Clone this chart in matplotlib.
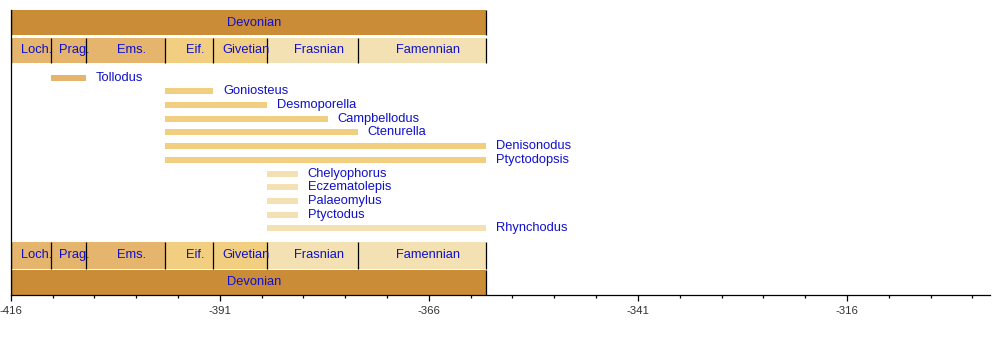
"""Ptyctodont genus ranges through the Devonian, with stage / period bands
top and bottom (GTS 2004 boundaries, ages in Ma as negative numbers)."""
import numpy as np
import matplotlib
matplotlib.use("Agg")
import matplotlib.pyplot as plt
from matplotlib.patches import Rectangle

plt.rcParams["font.family"] = ["Liberation Sans", "DejaVu Sans"]
plt.rcParams["axes.unicode_minus"] = False

# stages shown in the band
stage_names = ["Loch.", "Prag.", "Ems.", "Eif.", "Givetian", "Frasnian", "Famennian"]
stage_start = [-416.0, -411.2, -407.0, -397.5, -391.8, -385.3, -374.5]
stage_end = [-411.2, -407.0, -397.5, -391.8, -385.3, -374.5, -359.2]
period_name = "Devonian"
period_start, period_end = -416.0, -359.2

# genus ranges (first / last appearance)
taxa = ["Tollodus", "Goniosteus", "Desmoporella", "Campbellodus", "Ctenurella",
        "Denisonodus", "Ptyctodopsis", "Chelyophorus", "Eczematolepis",
        "Palaeomylus", "Ptyctodus", "Rhynchodus"]
first = [-411.2, -397.5, -397.5, -397.5, -397.5, -397.5, -397.5,
         -385.3, -385.3, -385.3, -385.3, -385.3]
last = [-407.0, -391.8, -385.3, -378.1, -374.5, -359.2, -359.2,
        -381.7, -381.7, -381.7, -381.7, -359.2]

# colours: early / middle / late Devonian stages, period
STAGE_COL = ["#E5B46D", "#E5B46D", "#E5B46D", "#F2CF80", "#F2CF80", "#F3E1B4", "#F3E1B4"]
PERIOD_COL = "#CB8C37"
TXT = "#1010CC"

XMIN, XMAX = -416.0, -298.9
# vertical layout in pixel rows (inverted y axis)
Y_TOP, Y_BOT = 10.0, 295.3
ROW0, ROW_STEP, BAR_H = 77.7, 13.7, 6.0
BANDS_TOP = [(10.0, 35.5, "period"), (37.7, 63.3, "stage")]
BANDS_BOT = [(242.3, 268.7, "stage"), (269.7, 295.3, "period")]


def stage_colour(x):
    for s, e, c in zip(stage_start, stage_end, STAGE_COL):
        if s - 1e-6 <= x < e - 1e-6:
            return c
    return STAGE_COL[-1]


fig = plt.figure(figsize=(10, 3.45), dpi=100)
ax = fig.add_axes([0.0107, (345 - Y_BOT) / 345, 0.990 - 0.0107, (Y_BOT - Y_TOP) / 345])
ax.set_xlim(XMIN, XMAX)
ax.set_ylim(Y_BOT, Y_TOP)

for y0, y1, kind in BANDS_TOP + BANDS_BOT:
    if kind == "period":
        ax.add_patch(Rectangle((period_start, y0), period_end - period_start, y1 - y0,
                               facecolor=PERIOD_COL, edgecolor="none", zorder=1))
        ax.vlines([period_start, period_end], y0, y1, color="black", lw=0.9, zorder=3)
        ax.annotate(period_name, ((period_start + period_end) / 2, (y0 + y1) / 2),
                    xytext=(6, 0), textcoords="offset pixels", ha="center", va="center",
                    color=TXT, fontsize=9.3, zorder=4)
    else:
        for name, s, e, c in zip(stage_names, stage_start, stage_end, STAGE_COL):
            ax.add_patch(Rectangle((s, y0), e - s, y1 - y0, facecolor=c,
                                   edgecolor="none", zorder=1))
            ax.annotate(name, ((s + e) / 2, (y0 + y1) / 2), xytext=(6, 0),
                        textcoords="offset pixels", ha="center", va="center",
                        color=TXT, fontsize=9.3, zorder=4)
        ax.vlines(stage_start + [stage_end[-1]], y0, y1, color="black", lw=0.9, zorder=3)

ys = ROW0 + ROW_STEP * np.arange(len(taxa))
cols = [stage_colour(f) for f in first]
ax.barh(ys, np.array(last) - np.array(first), left=first, height=BAR_H,
        color=cols, zorder=2)
for name, y, e in zip(taxa, ys, last):
    ax.annotate(name, (e, y), xytext=(10, 0), textcoords="offset pixels",
                ha="left", va="center", color=TXT, fontsize=9.3)

for side in ("top", "right"):
    ax.spines[side].set_visible(False)
ax.spines["left"].set_linewidth(0.9)
ax.spines["bottom"].set_linewidth(0.9)
ax.set_yticks([])
ax.set_xticks(np.arange(-416, XMAX, 25))
ax.set_xticks(np.arange(-416, XMAX, 5), minor=True)
ax.tick_params(axis="x", which="major", length=4.5, width=0.9, labelsize=8.2,
               labelcolor="#333333", pad=3)
ax.tick_params(axis="x", which="minor", length=2, width=0.9)

fig.savefig("out.png", dpi=100)
